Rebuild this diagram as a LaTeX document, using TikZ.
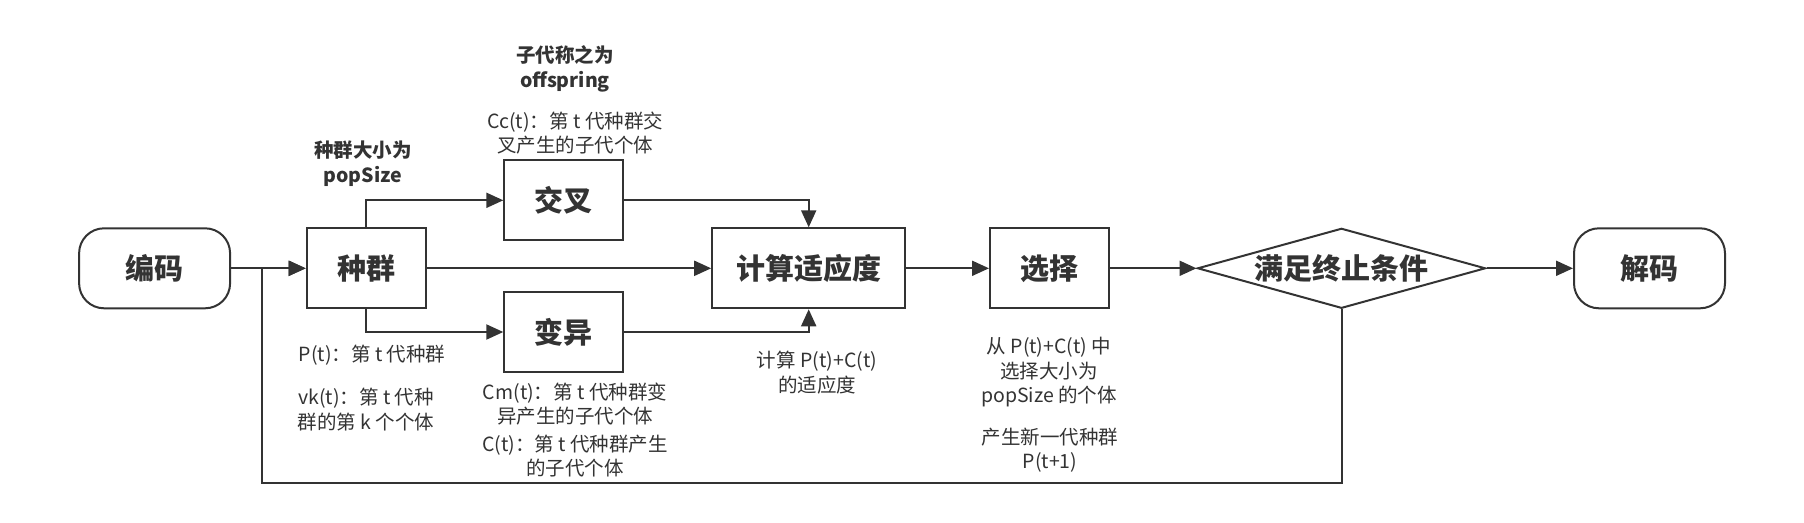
\documentclass[tikz,border=0pt]{standalone}
\usepackage{fontspec}
\setmainfont{Noto Sans CJK SC}
\usepackage{tikz}
\usetikzlibrary{shapes,arrows.meta,positioning,calc}
\definecolor{ink}{HTML}{333333}

\begin{document}
\begin{tikzpicture}[x=1pt,y=-1pt,
    box/.style={draw=ink,line width=2pt,minimum width=119pt,minimum height=80pt,inner sep=0pt,text=ink,font=\fontsize{29}{35}\selectfont\bfseries},
    term/.style={box,rounded corners=25pt,minimum width=151pt},
    note/.style={align=center,inner sep=0pt,text=ink,font=\fontsize{19.5}{24.5}\selectfont},
    bnote/.style={note,font=\fontsize{19.5}{25.5}\selectfont\bfseries},
    flow/.style={draw=ink,line width=2pt,-{Triangle[length=17pt,width=15pt]}}]
    \useasboundingbox (0,0) rectangle (1804,522);

    % Blocks
    \node [term] (encode) at (154.6,268.3) {编码};
    \node [box] (pop) at (366.2,268.3) {种群};
    \node [box] (cross) at (563.8,200.3) {交叉};
    \node [box] (mutate) at (563.8,332) {变异};
    \node [box,minimum width=193pt] (fitness) at (808.7,268.3) {计算适应度};
    \node [box] (select) at (1049.5,268.3) {选择};
    \node [box,diamond,aspect=3.6,minimum width=288pt] (stop) at (1341.5,268.3) {满足终止条件};
    \node [term] (decode) at (1649.5,268.3) {解码};
    \coordinate (back) at (262,482.7);

    % Notes
    \node [bnote] (popsize) at (363,163.5) {种群大小为\\popSize};
    \node [bnote] (offspring) at (565,69) {子代称之为\\offspring};
    \node [note] (cc) at (575,133) {Cc(t)：第 t 代种群交\\叉产生的子代个体};
    \node [note] (pt) at (372,355) {P(t)：第 t 代种群};
    \node [note] (vk) at (366,409.5) {vk(t)：第 t 代种\\群的第 k 个个体};
    \node [note] (cm) at (575,404) {Cm(t)：第 t 代种群变\\异产生的子代个体};
    \node [note] (ct) at (575,456) {C(t)：第 t 代种群产生\\的子代个体};
    \node [note] (eval) at (817,372.5) {计算 P(t)+C(t)\\的适应度};
    \node [note] (pick) at (1049,372.5) {从 P(t)+C(t) 中\\选择大小为\\popSize 的个体};
    \node [note] (next) at (1050,450) {产生新一代种群\\P(t+1)};

    % Flow
    \draw [flow] (encode) -- (pop);
    \draw [flow] (pop.north) |- (cross.west);
    \draw [flow] (pop.south) |- (mutate.west);
    \draw [flow] (pop) -- (fitness);
    \draw [flow] (cross.east) -| (fitness.north);
    \draw [flow] (mutate.east) -| (fitness.south);
    \draw [flow] (fitness) -- (select);
    \draw [flow] (select) -- (stop);
    \draw [flow] (stop) -- (decode);
    \draw [flow] (stop.south) |- (back) |- (pop.west);
\end{tikzpicture}
\end{document}
